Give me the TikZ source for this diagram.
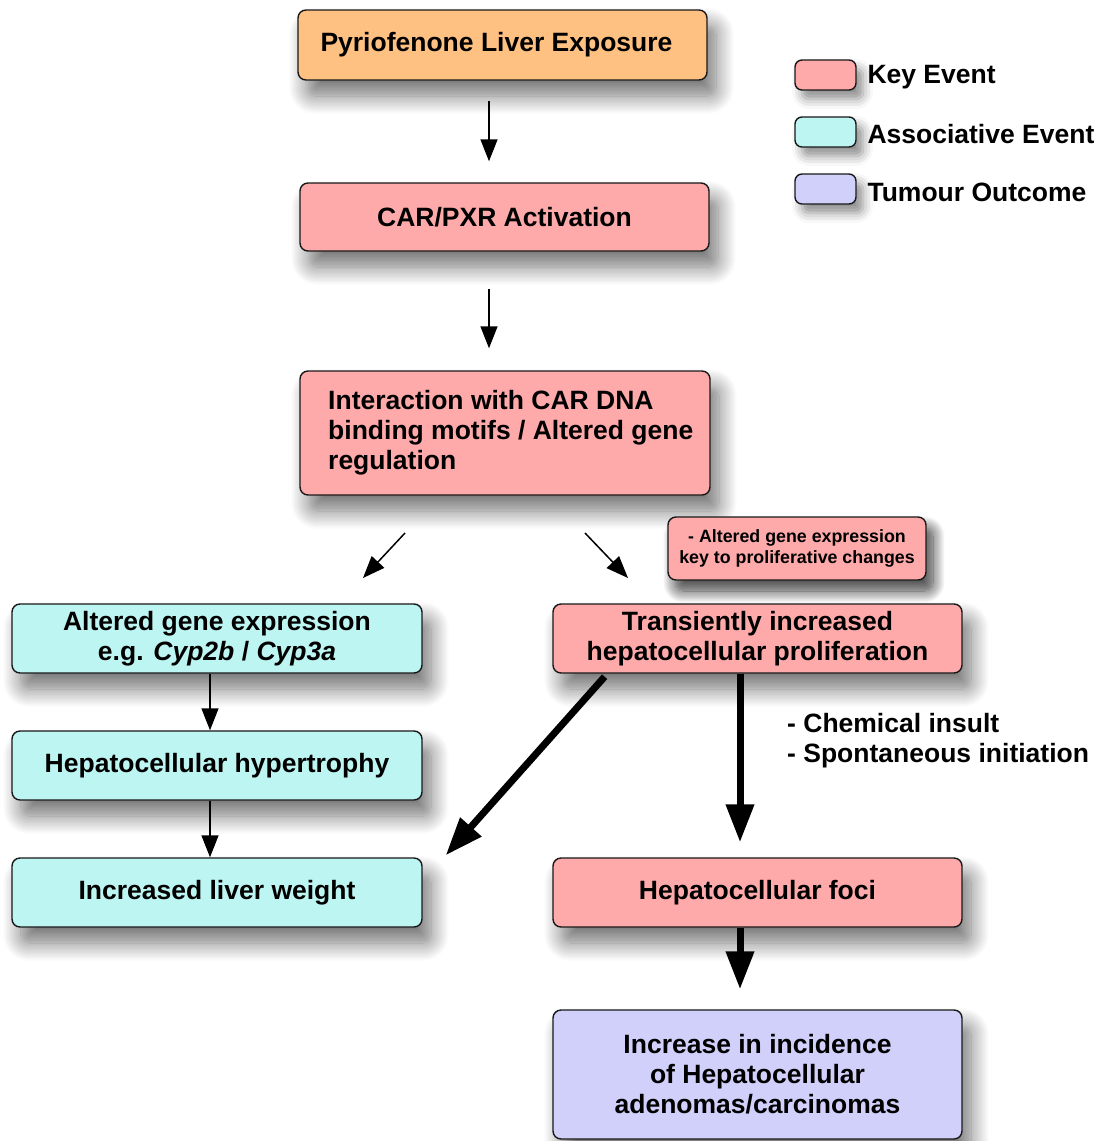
\documentclass[tikz,border=0pt]{standalone}
\usepackage{fontspec}
\setmainfont{Liberation Sans}
\usetikzlibrary{arrows.meta,shadows.blur,calc}
\definecolor{orangeF}{HTML}{FFC182}
\definecolor{pinkF}{HTML}{FFAAAA}
\definecolor{cyanF}{HTML}{BDF5F2}
\definecolor{lavF}{HTML}{D0D0FA}
\tikzset{
  evbox/.style={draw=black!90, line width=1.4pt, rounded corners=8pt, inner sep=0pt,
    font=\fontsize{26.5}{30}\selectfont\bfseries, align=center,
    blur shadow={shadow xshift=9pt, shadow yshift=-16pt, shadow blur radius=18pt, shadow opacity=55, shadow blur steps=14}},
  legbox/.style={draw=black!90, line width=1.4pt, rounded corners=7pt, minimum width=61pt, minimum height=30pt,
    blur shadow={shadow xshift=7pt, shadow yshift=-9pt, shadow blur radius=10pt, shadow opacity=45}},
  legtext/.style={anchor=west, font=\fontsize{26.5}{30}\selectfont\bfseries},
  thin arrow/.style={line width=1.5pt, -{Triangle[length=22pt,width=17pt]}},
  thick arrow/.style={line width=7pt, -{Triangle[length=38pt,width=27pt]}},
}
\begin{document}
\begin{tikzpicture}[x=1pt,y=-1pt]
\useasboundingbox (0,0) rectangle (1103,1141);
% main boxes
\node[evbox, fill=orangeF, minimum width=409pt, minimum height=70pt] (b1) at (502.5,45) {Pyriofenone Liver Exposure\hspace*{12pt}};
\node[evbox, fill=pinkF, minimum width=409pt, minimum height=68pt] (b2) at (504.5,217) {CAR/PXR Activation};
\node[evbox, fill=pinkF, minimum width=410pt, minimum height=124pt] (b3) at (505,433) {};
\node[anchor=north west, font=\fontsize{26.5}{30}\selectfont\bfseries, align=left, inner sep=0pt] (b3t) at (328,390) {Interaction with CAR DNA\\binding motifs / Altered gene\\regulation};
\node[evbox, fill=pinkF, minimum width=258pt, minimum height=63pt, font=\fontsize{17.8}{21}\selectfont\bfseries,
  blur shadow={shadow xshift=7pt, shadow yshift=-11pt, shadow blur radius=12pt, shadow opacity=45}] (note) at (797,548.5) {- Altered gene expression\\key to proliferative changes};
\node[evbox, fill=cyanF, minimum width=410pt, minimum height=69pt] (ag) at (217,638.5) {Altered gene expression\\e.g. \textit{Cyp2b} / \textit{Cyp3a}};
\node[evbox, fill=pinkF, minimum width=409pt, minimum height=69pt] (ti) at (757.5,638.5) {Transiently increased\\hepatocellular proliferation};
\node[evbox, fill=cyanF, minimum width=410pt, minimum height=69pt] (hh) at (217,765.5) {Hepatocellular hypertrophy};
\node[evbox, fill=cyanF, minimum width=410pt, minimum height=69pt] (lw) at (217,892.5) {Increased liver weight};
\node[evbox, fill=pinkF, minimum width=409pt, minimum height=69pt] (hf) at (757.5,892.5) {Hepatocellular foci};
\node[evbox, fill=lavF, minimum width=409pt, minimum height=129pt] (to) at (757.5,1074.5) {Increase in incidence\\of Hepatocellular\\adenomas/carcinomas};
% legend
\node[legbox, fill=pinkF] (l1) at (825.5,75) {};
\node[legbox, fill=cyanF] (l2) at (825.5,132) {};
\node[legbox, fill=lavF] (l3) at (825.5,189) {};
\node[legtext] (l1t) at (864,77) {Key Event};
\node[legtext] (l2t) at (864,134) {Associative Event};
\node[legtext] (l3t) at (864,192) {Tumour Outcome};
% side label
\node[anchor=west, font=\fontsize{26.5}{30}\selectfont\bfseries, align=left, inner sep=0pt] (ins) at (787,741) {- Chemical insult\\- Spontaneous initiation};
% coordinates for free ends
\coordinate (d1s) at (405,533);
\coordinate (d1e) at (363,578);
\coordinate (d2s) at (585,533);
\coordinate (d2e) at (628,578);
% connectors
\draw[thin arrow, shorten <=20pt, shorten >=21pt] ([xshift=-13.5pt]b1.south) -- ([xshift=-15.5pt]b2.north);
\draw[thin arrow, shorten <=37pt, shorten >=22pt] ([xshift=-15.5pt]b2.south) -- ([xshift=-16pt]b3.north);
\draw[thin arrow] (d1s) -- (d1e);
\draw[thin arrow] (d2s) -- (d2e);
\draw[thin arrow] ([xshift=-7pt]ag.south) -- ([xshift=-7pt]hh.north);
\draw[thin arrow] ([xshift=-7pt]hh.south) -- ([xshift=-7pt]lw.north);
\draw[thick arrow, shorten <=4pt] ([xshift=55pt]ti.south west) -- ([xshift=23pt,yshift=2pt]lw.north east);
\draw[thick arrow, shorten >=15pt] ([xshift=-17.5pt]ti.south) -- ([xshift=-17.5pt]hf.north);
\draw[thick arrow, shorten >=20pt] ([xshift=-17.5pt]hf.south) -- ([xshift=-17.5pt]to.north);
\end{tikzpicture}
\end{document}
